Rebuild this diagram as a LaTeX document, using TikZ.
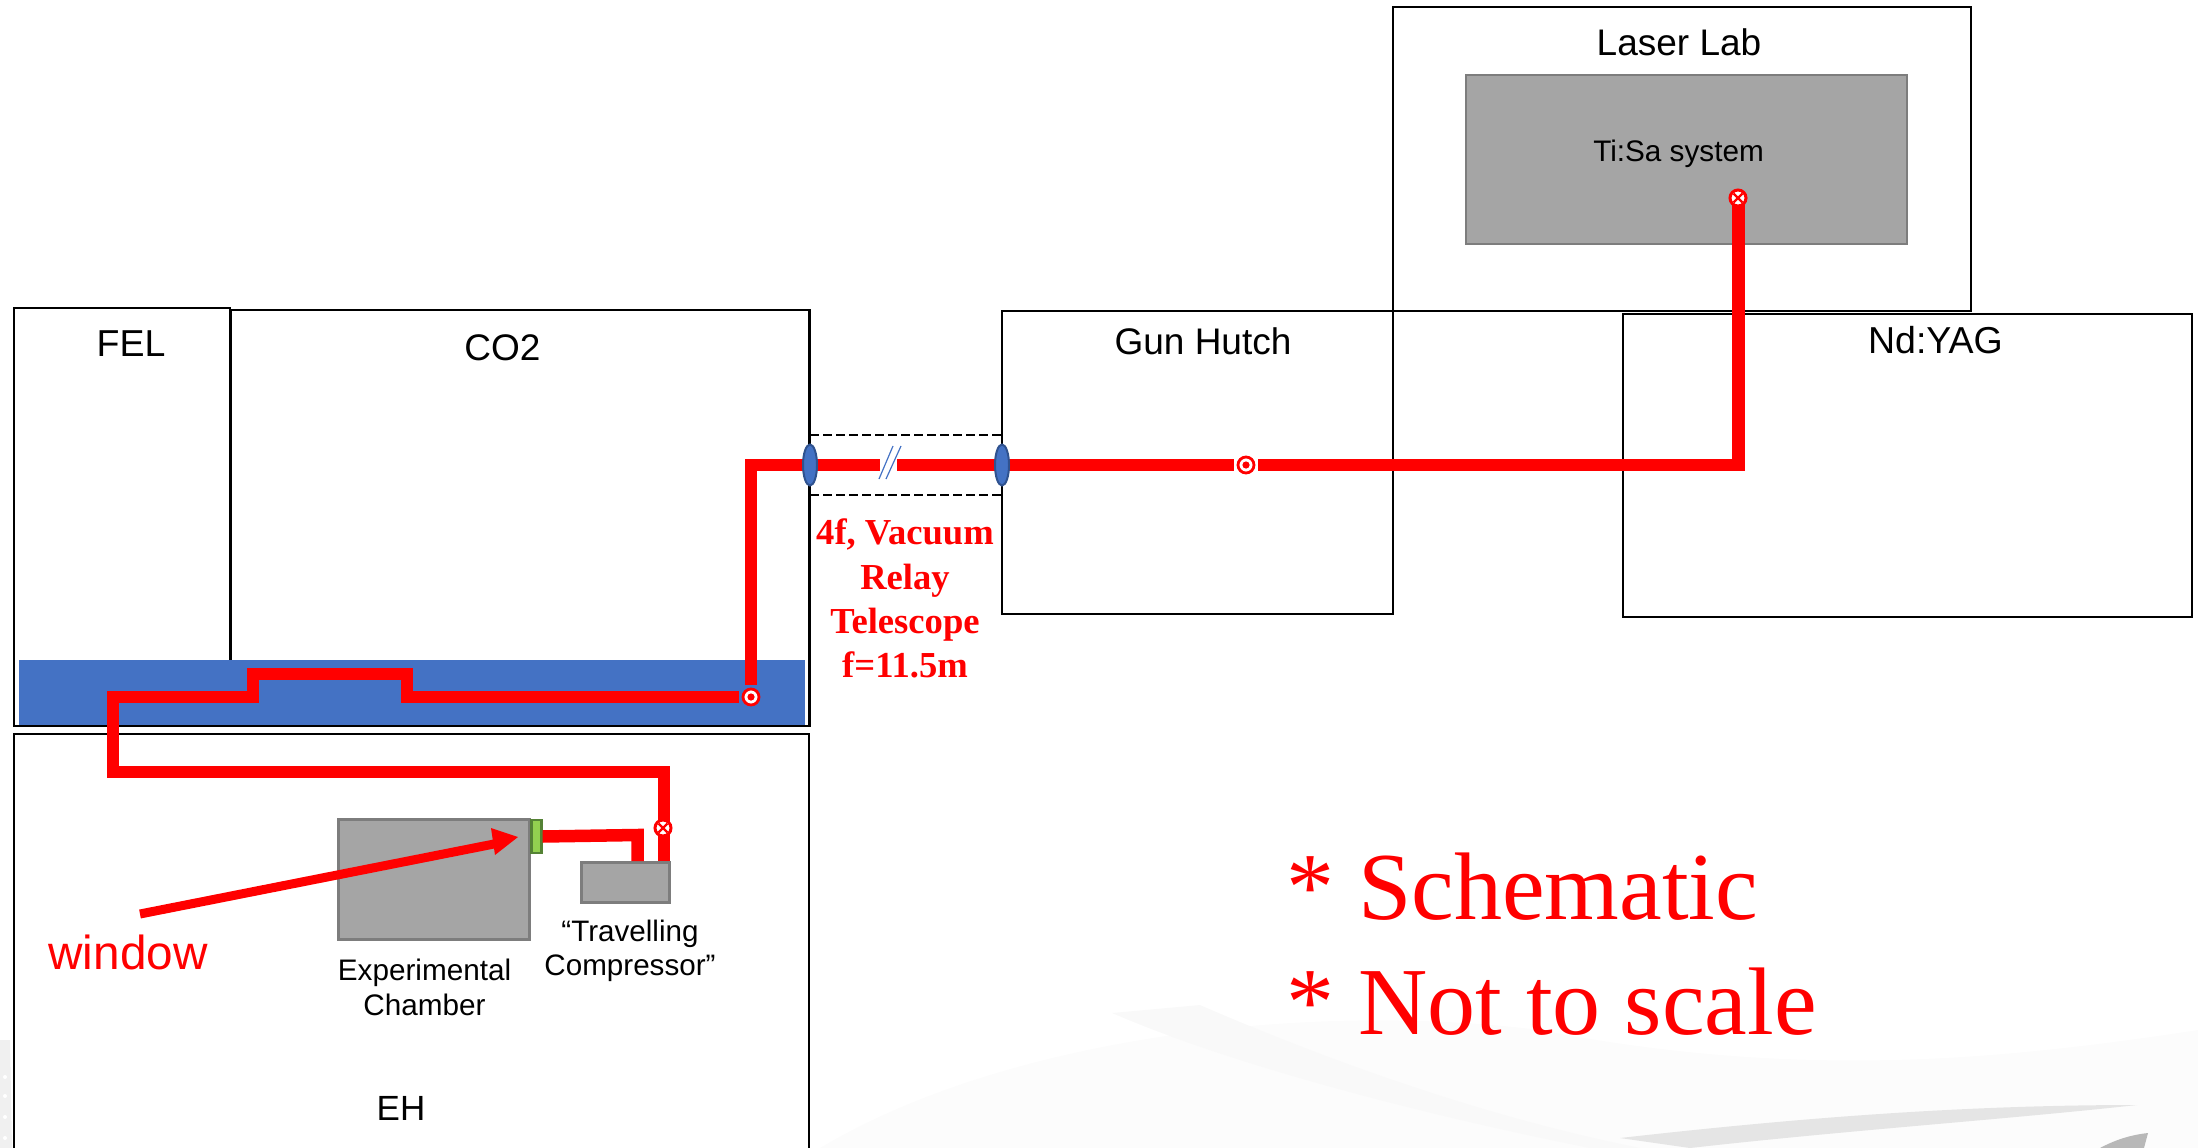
\documentclass[tikz,border=0pt]{standalone}
\usepackage{fontspec}
\setmainfont{Liberation Sans}
\newfontfamily\timesf{Liberation Serif}
\newcommand{\px}[1]{\fontsize{#1pt}{#1pt}\selectfont}
\definecolor{beamred}{RGB}{255,0,0}
\definecolor{blueband}{RGB}{68,114,196}
\definecolor{lensedge}{RGB}{47,82,143}
\definecolor{boxgrey}{RGB}{165,165,165}
\definecolor{boxedge}{RGB}{125,125,125}
\definecolor{wingreen}{RGB}{146,208,80}
\definecolor{winedge}{RGB}{84,130,53}
\usetikzlibrary{shapes.geometric}
\tikzset{
 room/.style={draw=black,line width=2.7pt,fill=none},
 equip/.style={draw=boxedge,line width=2.7pt,fill=boxgrey},
 beam/.style={draw=beamred,line width=12.5pt,line join=miter,line cap=butt},
 lens/.style={ellipse,draw=lensedge,line width=2pt,fill=blueband,minimum width=14pt,minimum height=41pt,inner sep=0pt},
 lbl/.style={text=black,inner sep=0pt,anchor=base,align=center},
 dashrule/.style={draw=black,line width=2.2pt,dash pattern=on 9pt off 4pt},
 breakmark/.style={draw=blueband,line width=1.2pt}
}
\newcommand{\crossmark}[3]{%
 \node[circle,draw=beamred,fill=white,line width=3pt,minimum size=16pt,inner sep=0pt] (#1) at (#2,#3) {};
 \draw[beamred,line width=2.4pt] (#2-4.5,#3-4.5) -- (#2+4.5,#3+4.5) (#2-4.5,#3+4.5) -- (#2+4.5,#3-4.5);}
\newcommand{\dotmark}[3]{%
 \node[circle,draw=beamred,fill=white,line width=2.8pt,minimum size=16pt,inner sep=0pt] (#1) at (#2,#3) {};
 \fill[beamred] (#2,#3) circle (3.6pt);}
\begin{document}
\begin{tikzpicture}[x=1pt,y=-1pt]
\useasboundingbox (0,0) rectangle (2198,1148);
% faint background swooshes
\fill[black!1] (820,1148) .. controls (1000,1040) and (1300,1000) .. (1540,1030) .. controls (1800,1080) and (2000,1060) .. (2198,1030) -- (2198,1148) -- cycle;
\fill[black!2.5] (1112,1013) -- (1200,1005) .. controls (1350,1070) and (1500,1120) .. (1640,1148) -- (1590,1148) .. controls (1400,1110) and (1220,1060) .. (1112,1013) -- cycle;
\fill[black!10] (1620,1138) .. controls (1780,1120) and (1950,1105) .. (2137,1105) .. controls (2000,1120) and (1850,1130) .. (1690,1148) -- cycle;
\fill[black!28] (2100,1148) .. controls (2115,1140) and (2130,1135) .. (2148,1133) -- (2144,1148) -- cycle;
\fill[black!6] (0,1040) -- (10,1040) -- (12,1148) -- (0,1148) -- cycle;
\foreach \yy in {1077,1096,1117,1138} {\fill[white] (5,\yy) circle (2pt);}
% rooms
\node[room,inner sep=0pt,minimum width=216pt,minimum height=418pt] (fel) at (122,517) {};
\node[room,inner sep=0pt,minimum width=579pt,minimum height=416pt] (cotwo) at (520,518) {};
\node[room,inner sep=0pt,minimum width=795pt,minimum height=440pt] (eh) at (411.5,954) {};
\node[room,inner sep=0pt,minimum width=391pt,minimum height=303pt] (gun) at (1197.5,462.5) {};
\node[room,inner sep=0pt,minimum width=569pt,minimum height=303pt] (yag) at (1907.5,465.5) {};
\node[room,inner sep=0pt,minimum width=578pt,minimum height=304pt] (laser) at (1682,159) {};
\node[equip,inner sep=0pt,minimum width=441pt,minimum height=169pt] (tisa) at (1686.5,159.5) {};
\node[inner sep=0pt,fill=blueband,minimum width=786pt,minimum height=65pt] (band) at (412,692.5) {};
% labels
\node[lbl,font=\px{37.5}] (tfel) at (131,356) {FEL};
\node[lbl,font=\px{37}] (tco) at (502.5,360) {CO2};
\node[lbl,font=\px{37}] (tgun) at (1203,354.5) {Gun Hutch};
\node[lbl,font=\px{37.5}] (tyag) at (1935.5,353) {Nd:YAG};
\node[lbl,font=\px{37}] (tlaser) at (1679,56) {Laser Lab};
\node[lbl,font=\px{29.7}] (ttisa) at (1678.5,161) {Ti:Sa system};
\node[lbl,font=\px{35}] (teh) at (401,1120) {EH};
% equipment
\node[equip,inner sep=0pt,minimum width=191pt,minimum height=120pt] (chamber) at (434,879.5) {};
\node[equip,inner sep=0pt,minimum width=88pt,minimum height=40pt] (comp) at (625.5,882.5) {};
\node[draw=winedge,line width=2.2pt,fill=wingreen,inner sep=0pt,minimum width=10pt,minimum height=33pt] (win) at (536.5,836.5) {};
\node[lbl,font=\px{29.7}] (texp) at (424.5,980) {Experimental};
\node[lbl,font=\px{29.7}] (texpb) at (424.5,1015) {Chamber};
\node[lbl,font=\px{29.6}] (ttra) at (630,941) {“Travelling};
\node[lbl,font=\px{29.6}] (ttrb) at (630,975) {Compressor”};
\node[lbl,font=\px{47.7},text=beamred] (twin) at (128,969.5) {window};
% beam
\coordinate (a1) at (751,685);
\coordinate (a2) at (751,465);
\coordinate (b1) at (880,465);
\coordinate (b2) at (897,465);
\coordinate (c1) at (1234,465);
\coordinate (c2) at (1258,465);
\coordinate (c3) at (1738.5,465);
\coordinate (src) at (1738.5,198);
\coordinate (d1) at (739,697);
\coordinate (d2) at (407,697);
\coordinate (d3) at (407,674);
\coordinate (d4) at (253,674);
\coordinate (d5) at (253,697);
\coordinate (d6) at (113,697);
\coordinate (d7) at (113,772);
\coordinate (d8) at (664,772);
\coordinate (d9) at (664,861);
\coordinate (e1) at (637.5,861);
\coordinate (e2) at (637.5,835);
\draw[beam] (a1) -- (a2) -- (b1);
\draw[beam] (b2) -- (c1);
\draw[beam] (c2) -- (c3) -- (src);
\draw[beam] (d1) -- (d2) -- (d3) -- (d4) -- (d5) -- (d6) -- (d7) -- (d8) -- (d9);
\draw[beam] (e1) -- (e2) -- (win.east);
% telescope
\coordinate (s1) at (810,435); \coordinate (s2) at (1002,435);
\coordinate (s3) at (810,495); \coordinate (s4) at (1002,495);
\draw[dashrule] (s1) -- (s2);
\draw[dashrule] (s3) -- (s4);
\node[lens] (l1) at (810,465) {};
\node[lens] (l2) at (1002,465) {};
\coordinate (m1) at (879,479); \coordinate (m2) at (893,446);
\coordinate (m3) at (886,479); \coordinate (m4) at (901,446);
\draw[breakmark] (m1) -- (m2) (m3) -- (m4);
% polarisation marks
\dotmark{p1}{1246}{465}
\dotmark{p2}{751}{697}
\crossmark{p3}{1738}{198}
\crossmark{p4}{663}{828}
% window arrow
\coordinate (w0) at (140,914);
\coordinate (w1) at (494,844);
\draw[draw=beamred,line width=9pt] (w0) -- (w1);
\fill[beamred] (518,837) -- (491,828) -- (495,855) -- cycle;
% relay text
\node[lbl,font=\bfseries\timesf\px{36.6},text=beamred] (r1) at (905,544) {4f, Vacuum};
\node[lbl,font=\bfseries\timesf\px{36.6},text=beamred] (r2) at (905,589) {Relay};
\node[lbl,font=\bfseries\timesf\px{36.6},text=beamred] (r3) at (905,633) {Telescope};
\node[lbl,font=\bfseries\timesf\px{36.6},text=beamred] (r4) at (905,677) {f=11.5m};
% notes
\node[inner sep=0pt,anchor=base west,font=\timesf\px{96},text=beamred] (n1) at (1286,919) {* Schematic};
\node[inner sep=0pt,anchor=base west,font=\timesf\px{96},text=beamred] (n2) at (1286,1034) {* Not to scale};
\end{tikzpicture}
\end{document}
